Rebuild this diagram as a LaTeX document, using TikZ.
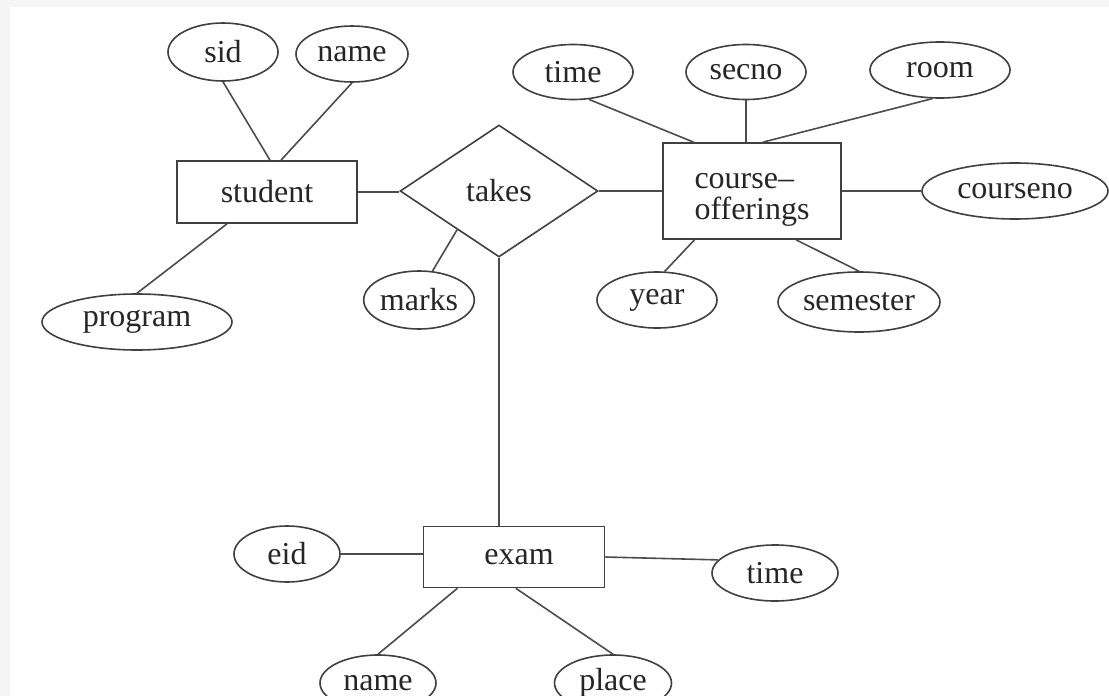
\documentclass[tikz,border=0pt]{standalone}
\usepackage{fontspec}
\setmainfont{Liberation Serif}
\usetikzlibrary{shapes.geometric,calc}

\begin{document}
\begin{tikzpicture}[x=0.5pt, y=-0.5pt,
  every node/.style = {draw=black!75, line width=0.8pt, inner sep=0pt,
    font=\fontsize{16}{15}\selectfont, text=black!85},
  attr/.style = {ellipse, minimum width=#1, minimum height=28pt},
  entity/.style = {rectangle},
  relship/.style = {diamond, aspect=1.5, minimum width=99pt, minimum height=66pt},
  link/.style = {draw=black!70, line width=0.8pt}]
  \fill[black!4] (0,0) rectangle (1109,696);
  \fill[white] (10,7) rectangle (1109,696);
  \useasboundingbox (0,0) rectangle (1109,696);

  % entities and relationship
  \node[entity, minimum width=90pt, minimum height=31pt] (student) at (267,192) {student};
  \node[relship] (takes) at (499,191) {takes};
  \node[entity, minimum width=89pt, minimum height=48pt] (course) at (752,191)
    {\raisebox{-3.5pt}[\height][\depth]{\begin{tabular}{@{}l@{}}course--\\offerings\end{tabular}}};
  \node[entity, minimum width=90.5pt, minimum height=30.5pt] (exam) at (514,557) {\hspace{5pt}exam};

  % attributes
  \node[attr=55pt, minimum height=29pt] (sid) at (223,52) {sid};
  \node[attr=56pt] (sname) at (352,54) {name};
  \node[attr=95pt] (program) at (137,322) {program};
  \node[attr=51pt, minimum height=29pt] (marks) at (419,300) {marks};
  \node[attr=60pt, minimum height=27.5pt] (ctime) at (573,72) {time};
  \node[attr=60pt, minimum height=27.5pt] (secno) at (746,72) {secno};
  \node[attr=70pt] (room) at (940,70) {room};
  \node[attr=93pt] (courseno) at (1015,191) {courseno};
  \node[attr=60pt] (year) at (657,300) {year};
  \node[attr=81pt, minimum height=30pt] (semester) at (859,302) {semester};
  \node[attr=53pt] (eid) at (287,554) {eid};
  \node[attr=63pt] (etime) at (775,573) {time};
  \node[attr=58pt] (ename) at (378,683) {name};
  \node[attr=58.5pt] (place) at (613,683) {place};

  % student
  \draw[link] (sid.south) -- ($(student.north)+(3,0)$);
  \draw[link] (sname.south) -- ($(student.north)+(14,0)$);
  \draw[link] ($(student.south west)!0.28!(student.south east)$) -- (program.north);
  \draw[link] (student.east) -- (student.east -| takes.west);

  % takes
  \draw[link] (takes.east) -- (course.west);
  \draw[link] ($(takes.west)!0.58!(takes.south)$) -- (marks.65);
  \draw[link] (takes.south) -- (takes.south |- exam.north);

  % course-offerings
  \draw[link] (ctime.-60) -- ($(course.north west)!0.175!(course.north east)$);
  \draw[link] (secno.south) -- (secno.south |- course.north);
  \draw[link] (room.-105) -- ($(course.north west)!0.56!(course.north east)$);
  \draw[link] (course.east) -- (courseno.west);
  \draw[link] ($(course.south west)!0.18!(course.south east)$) -- (year.75);
  \draw[link] ($(course.south west)!0.745!(course.south east)$) -- (semester.north);

  % exam
  \draw[link] (eid.east) -- (eid.east -| exam.west);
  \draw[link] (exam.east) -- (etime.167);
  \draw[link] ($(exam.south west)!0.19!(exam.south east)$) -- (ename.north);
  \draw[link] ($(exam.south west)!0.51!(exam.south east)$) -- (place.north);
\end{tikzpicture}
\end{document}
